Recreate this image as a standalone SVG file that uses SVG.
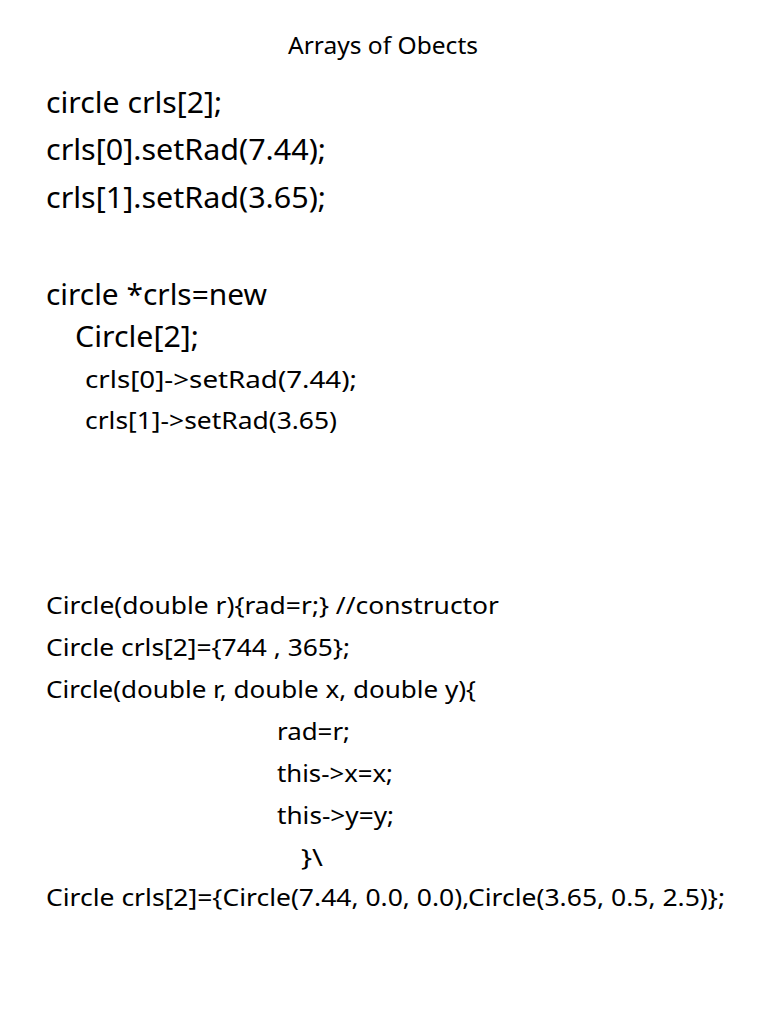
<svg xmlns="http://www.w3.org/2000/svg" width="768" height="1024" viewBox="0 0 768 1024">
<style>
text{font-family:"Noto Sans","Open Sans",sans-serif;fill:#000}
.t{font-size:24px}
.b{font-size:29px}
.s{font-size:23px}
</style>
<rect width="768" height="1024" fill="#fff"/>
<g id="title"><text class="t" x="383" y="54" text-anchor="middle" textLength="190" lengthAdjust="spacingAndGlyphs">Arrays of Obects</text></g>
<g id="code1">
<text class="b" x="46" y="113" textLength="176" lengthAdjust="spacingAndGlyphs">circle crls[2];</text>
<text class="b" x="46" y="160" textLength="280" lengthAdjust="spacingAndGlyphs">crls[0].setRad(7.44);</text>
<text class="b" x="46" y="208" textLength="280" lengthAdjust="spacingAndGlyphs">crls[1].setRad(3.65);</text>
<text class="b" x="46" y="305" textLength="221" lengthAdjust="spacingAndGlyphs">circle *crls=new</text>
<text class="b" x="75" y="347" textLength="124" lengthAdjust="spacingAndGlyphs">Circle[2];</text>
<text class="s" x="85" y="388" textLength="272" lengthAdjust="spacingAndGlyphs">crls[0]-&gt;setRad(7.44);</text>
<text class="s" x="85" y="429" textLength="252" lengthAdjust="spacingAndGlyphs">crls[1]-&gt;setRad(3.65)</text>
</g>
<g id="code2">
<text class="s" x="46" y="614" textLength="453" lengthAdjust="spacingAndGlyphs">Circle(double r){rad=r;}  //constructor</text>
<text class="s" x="46" y="656" textLength="304" lengthAdjust="spacingAndGlyphs">Circle crls[2]={744 , 365};</text>
<text class="s" x="46" y="698" textLength="430" lengthAdjust="spacingAndGlyphs">Circle(double r, double x, double y){</text>
<text class="s" x="277" y="740" textLength="73" lengthAdjust="spacingAndGlyphs">rad=r;</text>
<text class="s" x="277" y="782" textLength="116" lengthAdjust="spacingAndGlyphs">this-&gt;x=x;</text>
<text class="s" x="277" y="824" textLength="117" lengthAdjust="spacingAndGlyphs">this-&gt;y=y;</text>
<text class="s" x="301" y="866" textLength="22" lengthAdjust="spacingAndGlyphs">}\</text>
<text class="s" x="46" y="906" textLength="679" lengthAdjust="spacingAndGlyphs">Circle crls[2]={Circle(7.44, 0.0, 0.0),Circle(3.65, 0.5, 2.5)};</text>
</g>
</svg>
